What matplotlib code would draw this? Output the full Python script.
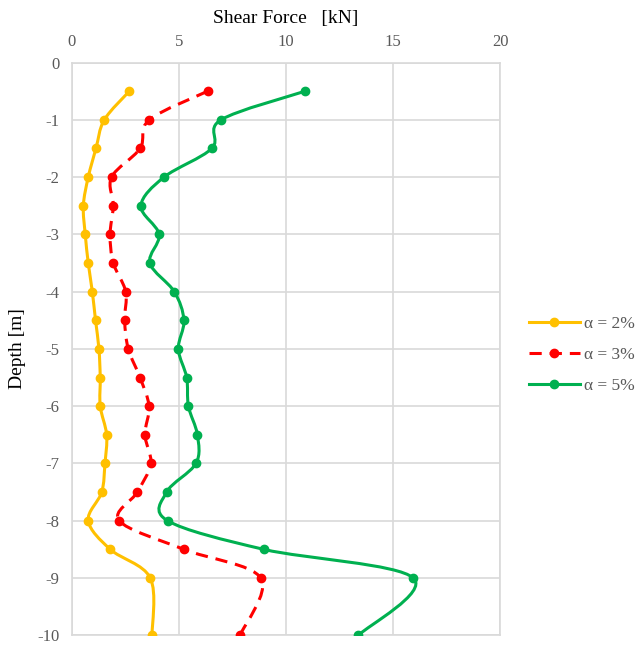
import numpy as np
import matplotlib
matplotlib.use("Agg")
import matplotlib.pyplot as plt
from matplotlib.path import Path
from matplotlib.patches import PathPatch
from matplotlib.lines import Line2D

plt.rcParams['font.family'] = ['Liberation Serif', 'DejaVu Serif']
plt.rcParams['axes.unicode_minus'] = False

# depths [m] of the sampled points
depth = [-0.5, -1, -1.5, -2, -2.5, -3, -3.5, -4, -4.5, -5, -5.5, -6, -6.5,
         -7, -7.5, -8, -8.5, -9, -10]

# shear force [kN]
shear_2 = [2.68, 1.51, 1.12, 0.76, 0.53, 0.62, 0.76, 0.95, 1.10, 1.26, 1.32,
           1.32, 1.62, 1.54, 1.39, 0.76, 1.79, 3.66, 3.74]
shear_3 = [6.34, 3.61, 3.18, 1.85, 1.93, 1.78, 1.93, 2.51, 2.46, 2.63, 3.18,
           3.60, 3.41, 3.68, 3.05, 2.21, 5.23, 8.82, 7.85]
shear_5 = [10.89, 6.96, 6.53, 4.30, 3.22, 4.07, 3.64, 4.78, 5.23, 4.97, 5.36,
           5.44, 5.86, 5.79, 4.42, 4.47, 8.97, 15.95, 13.38]

labels = ['α = 2%', 'α = 3%', 'α = 5%']
colors = ['#FFC000', '#FF0000', '#00B050']
styles = ['-', (0, (4, 2.6)), '-']


def smooth_path(x, y, t=1 / 6):
    # Excel-style smoothed line: cubic Bezier through every point
    pts = np.column_stack([x, y]).astype(float)
    verts = [pts[0]]
    codes = [Path.MOVETO]
    n = len(pts)
    for i in range(n - 1):
        p0 = pts[i - 1] if i > 0 else pts[i]
        p1, p2 = pts[i], pts[i + 1]
        p3 = pts[i + 2] if i + 2 < n else pts[i + 1]
        c1 = p1 + (p2 - p0) * t
        c2 = p2 - (p3 - p1) * t
        verts += [c1, c2, p2]
        codes += [Path.CURVE4] * 3
    return Path(verts, codes)


fig = plt.figure(figsize=(6.37, 6.45), dpi=100)
ax = fig.add_axes([0.113, 0.015, 0.672, 0.888])

handles = []
for xs, lab, c, ls in zip([shear_2, shear_3, shear_5], labels, colors, styles):
    patch = PathPatch(smooth_path(xs, depth), facecolor='none', edgecolor=c,
                      lw=2.2, linestyle=ls, zorder=3)
    ax.add_patch(patch)
    ax.plot(xs, depth, 'o', color=c, ms=6, zorder=4)
    handles.append(Line2D([], [], color=c, lw=2.2, linestyle=ls,
                          marker='o', ms=6))

ax.set_xlim(0, 20)
ax.set_ylim(-10, 0)
ax.set_xticks(range(0, 21, 5))
ax.set_yticks(range(-10, 1))
ax.xaxis.tick_top()
ax.xaxis.set_label_position('top')
ax.tick_params(length=0, labelsize=12, colors='#595959', pad=9)
ax.set_xlabel('Shear Force   [kN]', fontsize=14, labelpad=8)
ax.set_ylabel('Depth [m]', fontsize=14, labelpad=8)
ax.grid(True, color='#d9d9d9', lw=1.2)
for s in ax.spines.values():
    s.set_color('#d9d9d9')
    s.set_linewidth(1.2)

fig.legend(handles=handles, labels=labels, loc='center left',
           bbox_to_anchor=(0.82, 0.45), frameon=False, fontsize=12.5,
           handlelength=2.9, handletextpad=0.25, labelspacing=0.85,
           labelcolor='#595959', borderaxespad=0)

fig.savefig('out.png', dpi=100)
